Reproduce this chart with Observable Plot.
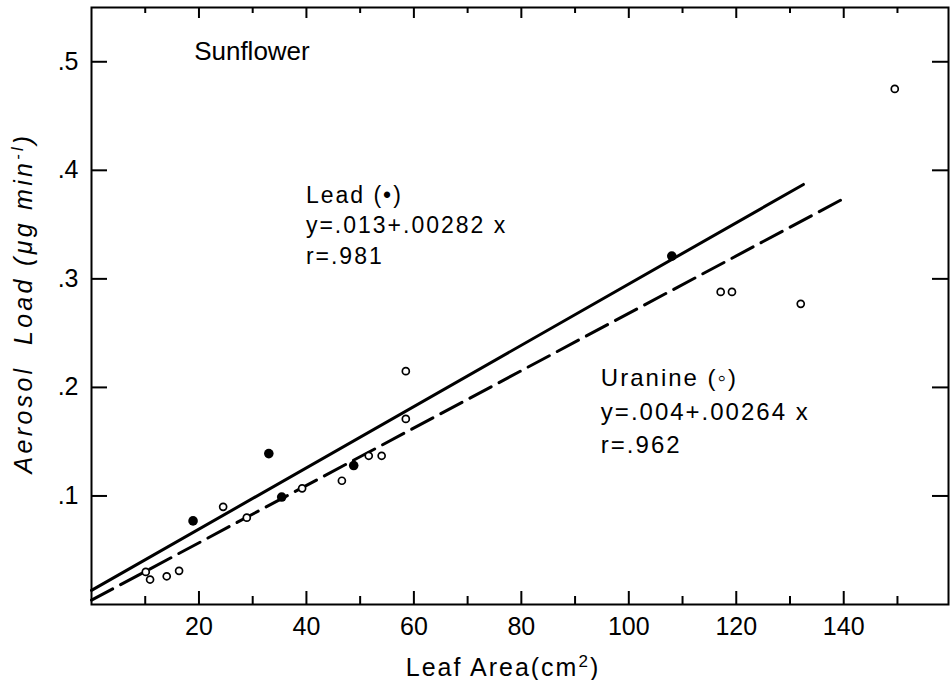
<!DOCTYPE html>
<html><head><meta charset="utf-8">
<script src="https://cdn.jsdelivr.net/npm/d3@7"></script>
<script src="https://cdn.jsdelivr.net/npm/@observablehq/plot@0.6"></script>
<style>body{margin:0;background:#fff;}</style>
</head><body><div id="chart"></div>
<script>
// Data
const leadX = [18.9, 33.0, 35.4, 48.8, 108.0];
const leadY = [0.077, 0.139, 0.099, 0.128, 0.321];
const uranineX = [10.1, 10.9, 14.0, 16.3, 24.5, 28.9, 39.2, 46.6, 51.6, 54.0, 58.5, 58.5, 117.1, 119.2, 132.0, 149.5];
const uranineY = [0.030, 0.023, 0.026, 0.031, 0.090, 0.080, 0.107, 0.114, 0.137, 0.137, 0.215, 0.171, 0.288, 0.288, 0.277, 0.475];
// Regression lines (endpoints as drawn)
const leadFitX = [0, 132.5];
const leadFitY = [0.013, 0.387];
const uranineFitX = [0, 140];
const uranineFitY = [0.004, 0.374];
// Ticks
const xMajorTicks = [20, 40, 60, 80, 100, 120, 140];
const xMinorTicks = [10, 30, 50, 70, 90, 110, 130, 150];
const xTickLabels = ["20", "40", "60", "80", "100", "120", "140"];
const yTicks = [0.1, 0.2, 0.3, 0.4, 0.5];
const yTickLabels = [".1", ".2", ".3", ".4", ".5"];
// Texts
const panelTitle = "Sunflower";
const leadLines = ["Lead (•)", "y=.013+.00282 x", "r=.981"];
const uranineLines = ["Uranine (◦)", "y=.004+.00264 x", "r=.962"];
const xLabelParts = ["Leaf Area(cm", "2", ")"];
const yLabelParts = ["Aerosol  Load (μg min", "-l", ")"];

const lead = leadX.map((x, i) => ({x, y: leadY[i]}));
const uranine = uranineX.map((x, i) => ({x, y: uranineY[i]}));
const leadFit = leadFitX.map((x, i) => ({x, y: leadFitY[i]}));
const uranineFit = uranineFitX.map((x, i) => ({x, y: uranineFitY[i]}));
const xTickData = xMajorTicks.map((v, i) => ({v, label: xTickLabels[i]}));
const yTickData = yTicks.map((v, i) => ({v, label: yTickLabels[i]}));

const W = 951, H = 680, mL = 91, mR = 3, mT = 7, mB = 76;
const pw = W - mL - mR, ph = H - mT - mB;
const font = "Liberation Sans, Arial, sans-serif";

const svg = Plot.plot({
  width: W, height: H,
  marginLeft: mL, marginRight: mR, marginTop: mT, marginBottom: mB,
  style: {fontFamily: font, background: "#fff", color: "#000"},
  x: {domain: [0, 159.5], axis: null},
  y: {domain: [0, 0.55], axis: null},
  marks: [
    // inward ticks
    Plot.tickX(xMajorTicks, {x: d => d, insetTop: ph - 13, stroke: "#000", strokeWidth: 2}),
    Plot.tickX(xMinorTicks, {x: d => d, insetTop: ph - 8, stroke: "#000", strokeWidth: 2}),
    Plot.tickX(xMajorTicks, {x: d => d, insetBottom: ph - 11, stroke: "#000", strokeWidth: 2}),
    Plot.tickX(xMinorTicks, {x: d => d, insetBottom: ph - 6, stroke: "#000", strokeWidth: 2}),
    Plot.tickY(yTicks, {y: d => d, insetRight: pw - 16, stroke: "#000", strokeWidth: 2}),
    Plot.tickY(yTicks, {y: d => d, insetLeft: pw - 16, stroke: "#000", strokeWidth: 2}),
    // tick labels
    Plot.text(xTickData, {x: "v", text: "label", frameAnchor: "bottom", lineAnchor: "top", dy: 13, fontSize: 25, fill: "#000"}),
    Plot.text(yTickData, {y: "v", text: "label", frameAnchor: "left", textAnchor: "end", dx: -13, fontSize: 25, fill: "#000"}),
    // fit lines
    Plot.line(leadFit, {x: "x", y: "y", stroke: "#000", strokeWidth: 3}),
    Plot.line(uranineFit, {x: "x", y: "y", stroke: "#000", strokeWidth: 3, strokeDasharray: "24,9"}),
    // points
    Plot.dot(uranine, {x: "x", y: "y", r: 3.5, stroke: "#000", strokeWidth: 1.7, fill: "#fff"}),
    Plot.dot(lead, {x: "x", y: "y", r: 4.8, fill: "#000", stroke: "none"}),
    // annotations
    Plot.text([panelTitle], {x: 19.1, y: 0.519, text: d => d, textAnchor: "start", lineAnchor: "top", fontSize: 26, fill: "#000"}),
    Plot.text([leadLines.join("\n")], {x: 39.9, y: 0.39, text: d => d, textAnchor: "start", lineAnchor: "top", fontSize: 23, lineHeight: 1.33, fill: "#000"}),
    Plot.text([uranineLines.join("\n")], {x: 94.8, y: 0.223, text: d => d, textAnchor: "start", lineAnchor: "top", fontSize: 24, lineHeight: 1.4, fill: "#000"}),
    // axis labels
    Plot.text([xLabelParts.join("")], {frameAnchor: "bottom", textAnchor: "middle", lineAnchor: "middle", dx: -17, dy: 63, text: d => d, fontSize: 25, fill: "#000"}),
    Plot.text([yLabelParts.join("")], {frameAnchor: "left", textAnchor: "middle", lineAnchor: "middle", dx: -68, dy: -3, rotate: -90, text: d => d, fontSize: 25, fontStyle: "italic", fill: "#000"}),
    Plot.frame({stroke: "#000", strokeWidth: 2})
  ]
});

document.getElementById("chart").appendChild(svg);

const s = d3.select(svg);
const noteLines = new Set([...leadLines, ...uranineLines]);
s.selectAll("text, tspan").filter(function() {
  return this.childElementCount === 0 && noteLines.has(this.textContent);
}).style("letter-spacing", "2px");

function superscript(parts, size, shift, spacing) {
  const full = parts.join("");
  s.selectAll("text").filter(function() { return this.textContent === full; }).each(function() {
    const t = d3.select(this);
    t.selectAll("*").remove();
    t.text(null);
    t.style("letter-spacing", spacing);
    t.append("tspan").text(parts[0]);
    t.append("tspan").attr("font-size", size).attr("dy", -shift).text(parts[1]);
    t.append("tspan").attr("dy", shift).text(parts[2]);
  });
}
superscript(xLabelParts, 17, 9, "2px");
superscript(yLabelParts, 16, 9, "3.3px");
</script>
</body></html>
